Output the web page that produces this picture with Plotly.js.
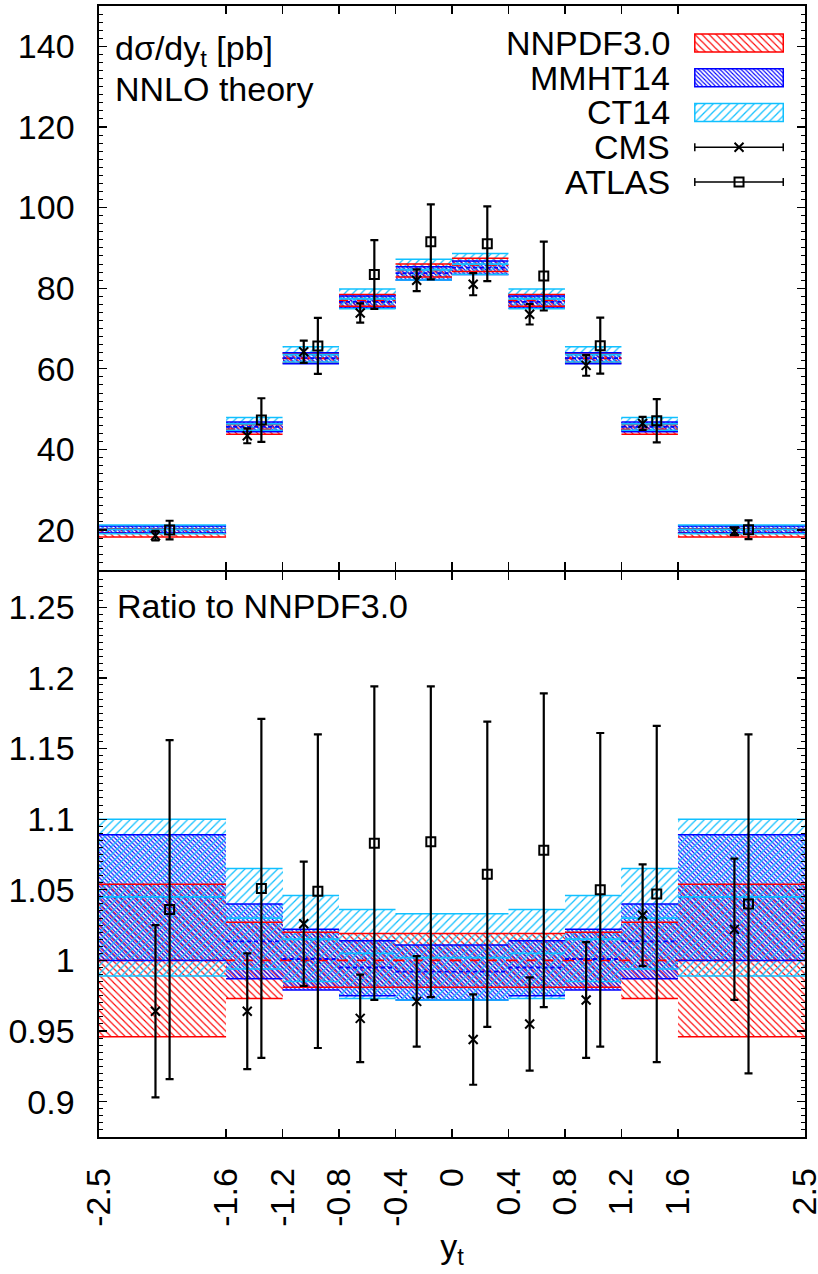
<!DOCTYPE html>
<html><head><meta charset="utf-8">
<script src="https://cdn.plot.ly/plotly-3.0.1.min.js"></script>
<style>body{margin:0;background:#fff;} #chart{width:818px;height:1274px;}</style>
</head><body><div id="chart"></div>
<script>
// ---------- data ----------
const binEdges = [-2.5, -1.6, -1.2, -0.8, -0.4, 0, 0.4, 0.8, 1.2, 1.6, 2.5];
const xTickText = ['-2.5', '-1.6', '-1.2', '-0.8', '-0.4', '0', '0.4', '0.8', '1.2', '1.6', '2.5'];
// NNPDF3.0 central prediction dsigma/dy_t [pb]
const nnpdfCentral = [19.3, 45.0, 62.6, 77.0, 84.4, 85.8, 77.0, 62.6, 45.0, 19.3];
// bands as ratio to NNPDF3.0
const nnpdfLow  = [0.946, 0.973, 0.981, 0.981, 0.981, 0.981, 0.981, 0.981, 0.973, 0.946];
const nnpdfMid  = [1.000, 1.000, 1.000, 1.000, 1.000, 1.000, 1.000, 1.000, 1.000, 1.000];
const nnpdfHigh = [1.054, 1.027, 1.020, 1.019, 1.019, 1.019, 1.019, 1.020, 1.027, 1.054];
const mmhtLow   = [1.000, 0.987, 0.979, 0.975, 0.972, 0.972, 0.975, 0.979, 0.987, 1.000];
const mmhtMid   = [1.045, 1.0135, 1.001, 0.995, 0.992, 0.992, 0.995, 1.001, 1.0135, 1.045];
const mmhtHigh  = [1.089, 1.040, 1.022, 1.014, 1.011, 1.011, 1.014, 1.022, 1.040, 1.089];
const ct14Low   = [0.989, 0.994, 0.985, 0.973, 0.972, 0.972, 0.973, 0.985, 0.994, 0.989];
const ct14Mid   = [1.045, 1.030, 1.015, 1.005, 1.002, 1.002, 1.005, 1.015, 1.030, 1.045];
const ct14High  = [1.100, 1.065, 1.046, 1.036, 1.033, 1.033, 1.036, 1.046, 1.065, 1.100];
// data points (ratio to NNPDF3.0)
const cmsX      = [-2.1, -1.45, -1.05, -0.65, -0.25, 0.15, 0.55, 0.95, 1.35, 2.0];
const cmsRatio  = [0.964, 0.964, 1.026, 0.959, 0.971, 0.944, 0.955, 0.972, 1.032, 1.022];
const cmsErr    = [0.061, 0.041, 0.044, 0.031, 0.032, 0.032, 0.033, 0.041, 0.036, 0.050];
const atlasX    = [-2.0, -1.35, -0.95, -0.55, -0.15, 0.25, 0.65, 1.05, 1.45, 2.1];
const atlasRatio= [1.036, 1.051, 1.049, 1.083, 1.084, 1.061, 1.078, 1.050, 1.047, 1.040];
const atlasErr  = [0.120, 0.120, 0.111, 0.111, 0.110, 0.108, 0.111, 0.111, 0.119, 0.120];
// axis ticks
const yTopTickVals = [20, 40, 60, 80, 100, 120, 140];
const yTopTickText = ['20', '40', '60', '80', '100', '120', '140'];
const yTopMidTicks = [30, 50, 70, 90, 110, 130, 150];
const yBotTickVals = [0.9, 0.95, 1.0, 1.05, 1.1, 1.15, 1.2, 1.25];
const yBotTickText = ['0.9', '0.95', '1', '1.05', '1.1', '1.15', '1.2', '1.25'];
const yBotMidTicks = [0.875, 0.925, 0.975, 1.025, 1.075, 1.125, 1.175, 1.225, 1.275];
const seriesNames = ['NNPDF3.0', 'MMHT14', 'CT14', 'CMS', 'ATLAS'];

// ---------- styles ----------
const RED = '#ff0000', BLUE = '#0000ff', CYAN = '#10c0ff';
const FONT = 'Liberation Sans, Arial, Helvetica, sans-serif';
const FS = 34;
const bands = [
  {low: nnpdfLow, mid: nnpdfMid, high: nnpdfHigh, color: RED,  shape: '\\', size: 5, sol: 0.22, dash: 'dash'},
  {low: mmhtLow,  mid: mmhtMid,  high: mmhtHigh,  color: BLUE, shape: '\\', size: 3.0, sol: 0.36, dash: '4px,3px'},
  {low: ct14Low,  mid: ct14Mid,  high: ct14High,  color: CYAN, shape: '/',  size: 5.8, sol: 0.22, dash: 'solid'}
];

const centers = [], widths = [];
for (let i = 0; i < binEdges.length - 1; i++) {
  centers.push((binEdges[i] + binEdges[i + 1]) / 2);
  widths.push(binEdges[i + 1] - binEdges[i]);
}
function scaled(arr, top) { return arr.map((v, i) => top ? v * nnpdfCentral[i] : v); }
function segs(vals) {
  const xs = [], ys = [];
  for (let i = 0; i < vals.length; i++) {
    xs.push(binEdges[i], binEdges[i + 1], null);
    ys.push(vals[i], vals[i], null);
  }
  return {x: xs, y: ys};
}

const traces = [];
[true, false].forEach(top => {
  const xa = top ? 'x2' : 'x', ya = top ? 'y' : 'y2';
  bands.forEach(b => {
    const lo = scaled(b.low, top), hi = scaled(b.high, top), md = scaled(b.mid, top);
    traces.push({
      type: 'bar', x: centers, width: widths, base: lo, y: hi.map((v, i) => v - lo[i]),
      xaxis: xa, yaxis: ya, hoverinfo: 'skip',
      marker: {color: b.color, line: {width: 0},
               pattern: {shape: b.shape, size: b.size, solidity: b.sol, fillmode: 'replace'}}
    });
    [lo, hi].forEach(v => {
      const s = segs(v);
      traces.push({type: 'scatter', mode: 'lines', x: s.x, y: s.y, xaxis: xa, yaxis: ya,
                   hoverinfo: 'skip', line: {color: b.color, width: 1.5}});
    });
    const sm = segs(md);
    traces.push({type: 'scatter', mode: 'lines', x: sm.x, y: sm.y, xaxis: xa, yaxis: ya,
                 hoverinfo: 'skip', line: {color: b.color, width: 1.8, dash: b.dash}});
  });
  [[cmsX, cmsRatio, cmsErr, 'x-thin-open', 9], [atlasX, atlasRatio, atlasErr, 'square-open', 9]].forEach(d => {
    traces.push({
      type: 'scatter', mode: 'markers', x: d[0], y: scaled(d[1], top), xaxis: xa, yaxis: ya,
      hoverinfo: 'skip',
      marker: {symbol: d[3], size: d[4], color: 'black', line: {color: 'black', width: 2}},
      error_y: {type: 'data', array: scaled(d[2], top), visible: true, color: 'black', thickness: 2.2, width: 4}
    });
  });
});

// legend samples (own small axes)
bands.forEach((b, r) => {
  traces.push({
    type: 'bar', x: [0.5], width: [1], base: [r - 0.26], y: [0.52], xaxis: 'x3', yaxis: 'y3',
    hoverinfo: 'skip',
    marker: {color: b.color, line: {width: 1.5, color: b.color},
             pattern: {shape: b.shape, size: b.size, solidity: b.sol, fillmode: 'replace'}}
  });
});
[['x-thin-open', 9, 3], ['square-open', 9, 4]].forEach(d => {
  traces.push({
    type: 'scatter', mode: 'markers', x: [0.5], y: [d[2]], xaxis: 'x3', yaxis: 'y3', hoverinfo: 'skip',
    marker: {symbol: d[0], size: d[1], color: 'black', line: {color: 'black', width: 2}},
    error_x: {type: 'data', array: [0.5], visible: true, color: 'black', thickness: 1.5, width: 4}
  });
});

const annotations = seriesNames.map((n, r) => ({
  text: n, xref: 'paper', yref: 'y3', x: 0.8116, y: r, xanchor: 'right', yanchor: 'middle',
  showarrow: false, font: {size: FS, family: FONT, color: 'black'}
}));
annotations.push(
  {text: 'dσ/dy<sub>t</sub> [pb]', xref: 'paper', yref: 'paper', x: 0.0198, y: 0.981, xanchor: 'left', yanchor: 'top',
   showarrow: false, font: {size: FS, family: FONT}},
  {text: 'NNLO theory', xref: 'paper', yref: 'paper', x: 0.0198, y: 0.9265, xanchor: 'left', yanchor: 'middle',
   showarrow: false, font: {size: FS, family: FONT}},
  {text: 'Ratio to NNPDF3.0', xref: 'paper', yref: 'paper', x: 0.0227, y: 0.4695, xanchor: 'left', yanchor: 'middle',
   showarrow: false, font: {size: FS, family: FONT}}
);

const xCommon = {
  range: [-2.5, 2.5], tickmode: 'array', tickvals: binEdges, ticktext: xTickText,
  ticks: 'inside', ticklen: 8, tickwidth: 1.2, tickcolor: 'black', showline: true, linewidth: 1.6, linecolor: 'black',
  mirror: 'ticks', showgrid: false, zeroline: false, fixedrange: true
};
const yCommon = {
  tickmode: 'array', ticks: 'inside', ticklen: 8, tickwidth: 1.2, tickcolor: 'black',
  showline: true, linewidth: 1.6, linecolor: 'black', mirror: 'ticks', showgrid: false, zeroline: false,
  fixedrange: true, ticklabelstandoff: 16
};
const yMidCommon = {
  tickmode: 'array', ticks: 'inside', ticklen: 7, tickwidth: 1.2, tickcolor: 'black',
  showline: true, linewidth: 1.6, linecolor: 'black', mirror: 'ticks', showgrid: false, zeroline: false,
  fixedrange: true, showticklabels: false
};
const TOP_DOMAIN = [0.5010, 1], BOT_DOMAIN = [0, 0.4996];
const layout = {
  width: 818, height: 1274,
  margin: {l: 99, r: 13, t: 6, b: 137},
  paper_bgcolor: 'white', plot_bgcolor: 'white',
  font: {family: FONT, size: FS, color: 'black'},
  showlegend: false, barmode: 'overlay', hovermode: false, bargap: 0,
  xaxis: Object.assign({}, xCommon, {domain: [0, 1], anchor: 'y2', tickangle: -90, ticklabelstandoff: 16,
    ticklabeloverflow: 'allow', title: {text: 'y<sub>t</sub>', standoff: 8, font: {size: FS}}}),
  xaxis2: Object.assign({}, xCommon, {domain: [0, 1], anchor: 'y', matches: 'x', showticklabels: false}),
  yaxis: Object.assign({}, yCommon, {domain: TOP_DOMAIN, anchor: 'x2', range: [10, 150],
    tickvals: yTopTickVals, ticktext: yTopTickText,
    minor: {tickmode: 'linear', tick0: 10, dtick: 2, ticks: 'inside', ticklen: 4, tickcolor: 'black', tickwidth: 1}}),
  yaxis4: Object.assign({}, yMidCommon, {overlaying: 'y', anchor: 'x2', range: [10, 150], tickvals: yTopMidTicks}),
  yaxis2: Object.assign({}, yCommon, {domain: BOT_DOMAIN, anchor: 'x', range: [0.875, 1.275],
    tickvals: yBotTickVals, ticktext: yBotTickText,
    minor: {tickmode: 'linear', tick0: 0.875, dtick: 0.005, ticks: 'inside', ticklen: 4, tickcolor: 'black', tickwidth: 1}}),
  yaxis5: Object.assign({}, yMidCommon, {overlaying: 'y2', anchor: 'x', range: [0.875, 1.275], tickvals: yBotMidTicks}),
  xaxis3: {domain: [0.8414, 0.9717], anchor: 'y3', range: [-0.02, 1.02], visible: false, fixedrange: true},
  yaxis3: {domain: [0.829, 0.9827], anchor: 'x3', range: [4.5, -0.5], visible: false, fixedrange: true},
  annotations: annotations
};
Plotly.newPlot('chart', traces, layout, {staticPlot: true, displayModeBar: false});
</script>
</body></html>
